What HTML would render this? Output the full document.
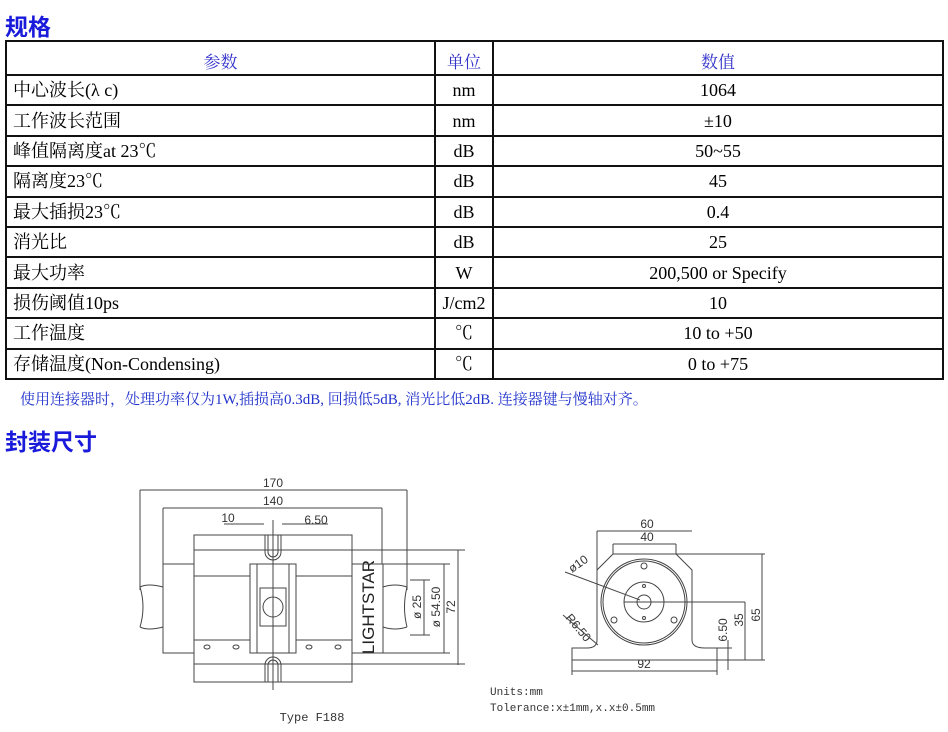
<!DOCTYPE html>
<html><head><meta charset="utf-8"><style>
body{margin:0;width:948px;height:732px;background:#fff;position:relative;overflow:hidden;font-family:"Liberation Serif","Noto Serif CJK SC",serif;}
.h{position:absolute;left:5px;color:#1a1adb;font-family:"Liberation Sans","Noto Sans CJK SC",sans-serif;font-weight:bold;font-size:23px;}
table{position:absolute;left:5px;top:40px;width:939px;border-collapse:collapse;}
td{border:2px solid #111;height:28.4px;padding:0 6px;font-size:18px;line-height:24px;white-space:nowrap;}
tr.hd td{height:31px;line-height:20px;vertical-align:bottom;padding-bottom:1px;color:#3333cc;text-align:center;font-size:17px;}
td.c{text-align:center}
.note{position:absolute;left:20px;top:388px;color:#2233cc;font-size:15px;}
</style></head><body>
<div class="h" style="top:8px">规格</div>
<table>
<tr class="hd"><td style="width:415px">参数</td><td style="width:44px">单位</td><td>数值</td></tr>
<tr><td>中心波长(λ c)</td><td class="c">nm</td><td class="c">1064</td></tr>
<tr><td>工作波长范围</td><td class="c">nm</td><td class="c">±10</td></tr>
<tr><td>峰值隔离度at 23℃</td><td class="c">dB</td><td class="c">50~55</td></tr>
<tr><td>隔离度23℃</td><td class="c">dB</td><td class="c">45</td></tr>
<tr><td>最大插损23℃</td><td class="c">dB</td><td class="c">0.4</td></tr>
<tr><td>消光比</td><td class="c">dB</td><td class="c">25</td></tr>
<tr><td>最大功率</td><td class="c">W</td><td class="c">200,500 or Specify</td></tr>
<tr><td>损伤阈值10ps</td><td class="c">J/cm2</td><td class="c">10</td></tr>
<tr><td>工作温度</td><td class="c">℃</td><td class="c">10 to +50</td></tr>
<tr><td>存储温度(Non-Condensing)</td><td class="c">℃</td><td class="c">0 to +75</td></tr>
</table>
<div class="note">使用连接器时，处理功率仅为1W,插损高0.3dB, 回损低5dB, 消光比低2dB. 连接器键与慢轴对齐。</div>
<div class="h" style="top:423px">封装尺寸</div>
<svg style="position:absolute;left:0;top:0" width="948" height="732" fill="none" stroke="#444" stroke-width="1" font-family="Liberation Sans, sans-serif">
<g font-size="12" fill="#333" stroke="none">
<text x="273" y="487" text-anchor="middle">170</text>
<text x="273" y="505" text-anchor="middle">140</text>
<text x="228" y="522" text-anchor="middle">10</text>
<text x="316" y="524" text-anchor="middle">6.50</text>
<text transform="translate(374,607) rotate(-90)" text-anchor="middle" font-size="17" fill="#222">LIGHTSTAR</text>
<text transform="translate(421,607) rotate(-90)" text-anchor="middle">ø 25</text>
<text transform="translate(440,607) rotate(-90)" text-anchor="middle">ø 54.50</text>
<text transform="translate(455,607) rotate(-90)" text-anchor="middle">72</text>
<text x="312" y="721" text-anchor="middle" font-family="Liberation Mono, monospace" font-size="12">Type F188</text>
<text x="647" y="528" text-anchor="middle">60</text>
<text x="647" y="541" text-anchor="middle">40</text>
<text transform="translate(572,573) rotate(-35)">ø10</text>
<text transform="translate(565,618) rotate(50)">R6.50</text>
<text x="644" y="668" text-anchor="middle">92</text>
<text transform="translate(727,630) rotate(-90)" text-anchor="middle">6.50</text>
<text transform="translate(743,620) rotate(-90)" text-anchor="middle">35</text>
<text transform="translate(760,615) rotate(-90)" text-anchor="middle">65</text>
<text x="490" y="695" font-family="Liberation Mono, monospace" font-size="11">Units:mm</text>
<text x="490" y="711" font-family="Liberation Mono, monospace" font-size="11">Tolerance:x±1mm,x.x±0.5mm</text>
</g>
<line x1="140" y1="490" x2="407" y2="490"/><line x1="163" y1="508" x2="382" y2="508"/>
<line x1="140" y1="490" x2="140" y2="590"/><line x1="407" y1="490" x2="407" y2="590"/>
<line x1="163" y1="508" x2="163" y2="564"/><line x1="382" y1="508" x2="382" y2="564"/>
<line x1="224" y1="524" x2="264" y2="524"/><line x1="282" y1="524" x2="328" y2="524"/>
<path d="M140 587 q8 -4 23 0 M140 627 q8 4 23 0 M140 587 q6 20 0 40 M163 587 V627"/>
<path d="M383 587 q12 -4 24 0 M383 627 q12 4 24 0 M383 587 V627 M407 587 q-5 20 0 40"/>
<rect x="163" y="564" width="31" height="89"/>
<rect x="352" y="564" width="31" height="89"/>
<rect x="194" y="535" width="158" height="147"/>
<line x1="194" y1="550" x2="465" y2="550"/><line x1="194" y1="664" x2="465" y2="664"/>
<line x1="352" y1="564" x2="450" y2="564"/><line x1="352" y1="653" x2="450" y2="653"/>
<line x1="194" y1="576" x2="250" y2="576"/><line x1="296" y1="576" x2="352" y2="576"/>
<rect x="250" y="564" width="46" height="89"/>
<rect x="257" y="564" width="32" height="89"/>
<rect x="260" y="588" width="26" height="38"/>
<circle cx="273" cy="607" r="10"/>
<path d="M265 535 V552 a8 8 0 0 0 16 0 V535 M268 535 V552 a5 5 0 0 0 10 0 V535"/>
<path d="M265 682 V665 a8 8 0 0 1 16 0 V682 M268 682 V665 a5 5 0 0 1 10 0 V682"/>
<line x1="273" y1="520" x2="273" y2="690"/>
<g><ellipse cx="207" cy="647" rx="3" ry="2"/><ellipse cx="236" cy="647" rx="3" ry="2"/><ellipse cx="309" cy="647" rx="3" ry="2"/><ellipse cx="338" cy="647" rx="3" ry="2"/></g>
<line x1="194" y1="640" x2="250" y2="640"/><line x1="296" y1="640" x2="352" y2="640"/>
<line x1="458" y1="550" x2="458" y2="665"/><line x1="444" y1="564" x2="444" y2="653"/><line x1="424" y1="580" x2="424" y2="635"/>
<line x1="410" y1="580" x2="430" y2="580"/><line x1="410" y1="635" x2="430" y2="635"/>
<line x1="597" y1="531" x2="692" y2="531"/><line x1="613" y1="544" x2="676" y2="544"/>
<line x1="613" y1="544" x2="613" y2="554"/><line x1="676" y1="544" x2="676" y2="554"/>
<path d="M597 531 V640 q0 8 -10 8 H572 V660 H717 V648 H705 q-13 0 -13 -8 V570 L676 554 H613 L597 570"/>
<line x1="676" y1="554" x2="765" y2="554"/>
<circle cx="644" cy="602" r="43"/><circle cx="644" cy="602" r="41"/>
<circle cx="644" cy="602" r="20"/><circle cx="644" cy="602" r="7"/>
<circle cx="644" cy="566" r="3"/><circle cx="614" cy="620" r="3"/><circle cx="674" cy="620" r="3"/>
<circle cx="644" cy="586" r="1.5"/><circle cx="644" cy="618" r="1.5"/>
<line x1="624" y1="602" x2="745" y2="602"/>
<line x1="572" y1="660" x2="572" y2="675"/><line x1="717" y1="660" x2="717" y2="675"/>
<line x1="572" y1="671" x2="717" y2="671"/>
<line x1="762" y1="554" x2="762" y2="660"/><line x1="745" y1="602" x2="745" y2="660"/>
<line x1="728" y1="640" x2="728" y2="670"/>
<line x1="717" y1="660" x2="765" y2="660"/><line x1="717" y1="648" x2="732" y2="648"/>
<line x1="565" y1="572" x2="640" y2="600"/><line x1="563" y1="615" x2="598" y2="645"/>
</svg>
</body></html>
